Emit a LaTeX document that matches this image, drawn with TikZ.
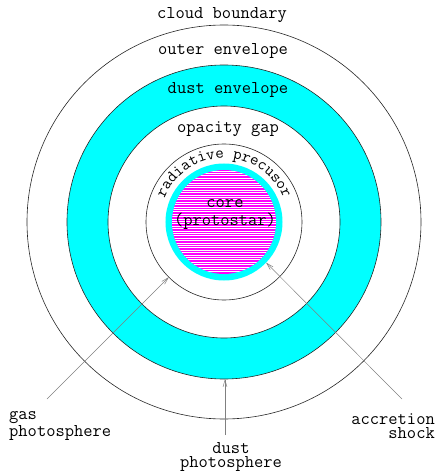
\documentclass[tikz,border=0pt]{standalone}
\usepackage{tikz}
\usetikzlibrary{arrows.meta,decorations.text}
\definecolor{DustCyan}{RGB}{0,255,255}
\definecolor{CoreMagenta}{RGB}{255,0,255}
\newcommand{\labfont}{\ttfamily\fontsize{18}{14}\selectfont}
\newcommand{\arcfont}{\ttfamily\fontsize{16.5}{14}\selectfont}

\begin{document}
\begin{tikzpicture}[
  x=1pt, y=1pt,
  font=\labfont,
  ring/.style={draw=black!85, line width=0.6pt},
  lab/.style={inner sep=0pt, align=center},
  ptr/.style={draw=black!50, line width=0.5pt, -{Straight Barb[length=7pt,width=4pt]}},
]
\useasboundingbox (-224,-249) rectangle (215,222);
\coordinate (c) at (0,0);
% shells
\draw[ring] (c) circle[radius=197];
\draw[ring, fill=DustCyan, even odd rule] (c) circle[radius=157] (c) circle[radius=116];
\draw[ring] (c) circle[radius=78];
\fill[DustCyan] (c) circle[radius=58.5];
\fill[CoreMagenta] (c) circle[radius=52];
\begin{scope}
  \clip (c) circle[radius=52];
  \foreach \yy in {-52,-49.6,...,52}
    \draw[white, line width=0.4pt] (-53,\yy) -- (53,\yy);
\end{scope}
% shell labels
\node[lab, anchor=base] (cloud) at (-2,203) {cloud boundary};
\node[lab, anchor=base] (outer) at (-1,167) {outer envelope};
\node[lab, anchor=base] (dust) at (4,128) {dust envelope};
\node[lab, anchor=base] (gap) at (4,89) {opacity gap};
\node[lab, anchor=base] (core) at (1,15) {core};
\node[lab, anchor=base] (proto) at (1,-3) {(protostar)};
\path[decorate, decoration={text along path, text align=center,
  text={|\arcfont|radiative precusor}}]
  (c) ++(164:64) arc[start angle=164, end angle=16, radius=64];
% bottom labels
\node[lab, align=left, anchor=base west] (gasph) at (-215,-214) {gas\\photosphere};
\node[lab, align=right, anchor=base east] (shock) at (211,-216) {accretion\\shock};
\node[lab, anchor=base] (dustph) at (7,-245) {dust\\photosphere};
\coordinate (gastail) at (-177,-177);
\coordinate (shocktail) at (178,-177);
\coordinate (dusttail) at (1,-213);
\coordinate (gastip) at (225:78);
\coordinate (shocktip) at (-44:58.5);
\coordinate (dusttip) at (1,-157);
\draw[ptr] (gastail) -- (gastip);
\draw[ptr] (shocktail) -- (shocktip);
\draw[ptr] (dusttail) -- (dusttip);
\end{tikzpicture}
\end{document}
